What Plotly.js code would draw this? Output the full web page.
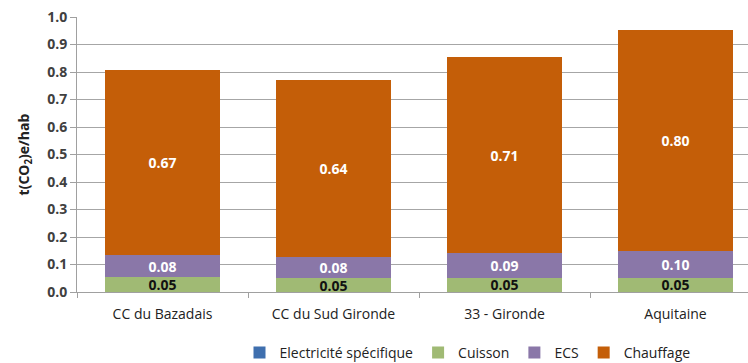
<!DOCTYPE html>
<html>
<head>
<meta charset="utf-8">
<script src="https://cdn.plot.ly/plotly-3.0.1.min.js"></script>
<style>html,body{margin:0;padding:0;background:#fff}#chart{width:748px;height:363px}</style>
</head>
<body>
<div id="chart"></div>
<script>
var categories = ["CC du Bazadais", "CC du Sud Gironde", "33 - Gironde", "Aquitaine"];
var electricite = [0, 0, 0, 0];
var cuisson = [0.054, 0.050, 0.052, 0.052];
var ecs = [0.081, 0.077, 0.089, 0.098];
var chauffage = [0.674, 0.644, 0.714, 0.804];
var yTicks = [0, 0.1, 0.2, 0.3, 0.4, 0.5, 0.6, 0.7, 0.8, 0.9, 1.0];

var FONT = "'Open Sans', Lato, sans-serif";
function bar(name, y, color, textColor, showText) {
  return {
    type: "bar", name: name, x: categories, y: y,
    marker: {color: color},
    texttemplate: showText ? "%{y:.2f}" : "",
    textposition: showText ? "inside" : "none",
    insidetextanchor: "middle",
    constraintext: "none",
    textangle: 0,
    textfont: {family: FONT, size: 14, color: textColor, weight: "bold"},
    hoverinfo: "skip"
  };
}
var data = [
  bar("Electricité spécifique", electricite, "#3f6fae", "#ffffff", false),
  bar("Cuisson", cuisson, "#a0ba74", "#111111", true),
  bar("ECS", ecs, "#8a77a8", "#ffffff", true),
  bar("Chauffage", chauffage, "#c45e08", "#ffffff", true)
];
var layout = {
  width: 748, height: 363,
  margin: {l: 77, r: 0, t: 17, b: 71},
  barmode: "stack",
  bargap: 0.33,
  paper_bgcolor: "#ffffff", plot_bgcolor: "#ffffff",
  font: {family: FONT, color: "#333333", size: 13},
  showlegend: true,
  legend: {
    orientation: "h", traceorder: "normal",
    xref: "container", yref: "container",
    x: 0.625, xanchor: "center", y: 0.028, yanchor: "middle",
    font: {family: FONT, size: 14, color: "#222222"},
    itemwidth: 30
  },
  xaxis: {
    type: "category",
    range: [-0.5, 3.424],
    showline: true, linecolor: "#a0a0a0", linewidth: 1,
    ticks: "outside", tickson: "boundaries", ticklen: 5, tickcolor: "#a0a0a0",
    ticklabelstandoff: 9,
    tickfont: {family: FONT, size: 14, color: "#222222"},
    showgrid: false, zeroline: false
  },
  yaxis: {
    range: [0, 1.0],
    tickvals: yTicks,
    ticktext: yTicks.map(function(v){return v.toFixed(1);}),
    showgrid: true, gridcolor: "#a6a6a6", gridwidth: 1,
    showline: true, linecolor: "#a0a0a0", linewidth: 1,
    ticks: "outside", ticklen: 6, tickcolor: "#a0a0a0",
    tickfont: {family: FONT, size: 14, color: "#404040", weight: "bold"},
    zeroline: false,
    title: {text: "t(CO<sub>2</sub>)e/hab", font: {family: FONT, size: 14, color: "#222222", weight: "bold"}, standoff: 14}
  }
};
Plotly.newPlot("chart", data, layout, {displayModeBar: false, staticPlot: true});
</script>
</body>
</html>
